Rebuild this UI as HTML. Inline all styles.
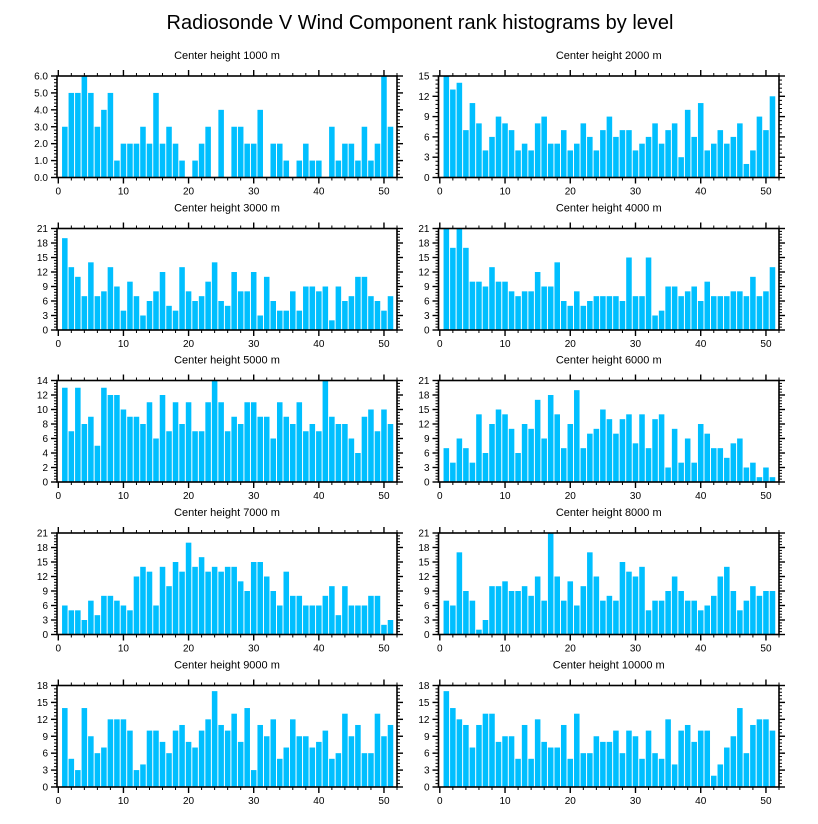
<!DOCTYPE html>
<html><head><meta charset="utf-8"><style>
html,body{margin:0;padding:0;background:#fff;}
svg{display:block;font-family:"Liberation Sans",sans-serif;}
</style></head><body>
<svg id="chart" width="818" height="824" viewBox="0 0 818 824" xmlns="http://www.w3.org/2000/svg">
<text x="420" y="29" text-anchor="middle" font-size="20" fill="#000">Radiosonde V Wind Component rank histograms by level</text>
</svg>
<script>
const levels = ["1000","2000","3000","4000","5000","6000","7000","8000","9000","10000"];
const yMaxes = [6,15,21,21,14,21,21,21,18,18];
const yMajors = [1,3,3,3,2,3,3,3,3,3];
const ranks = [1,2,3,4,5,6,7,8,9,10,11,12,13,14,15,16,17,18,19,20,21,22,23,24,25,26,27,28,29,30,31,32,33,34,35,36,37,38,39,40,41,42,43,44,45,46,47,48,49,50,51];
const xTicks = [0,10,20,30,40,50];
const counts1000 = [3,5,5,6,5,3,4,5,1,2,2,2,3,2,5,2,3,2,1,0,1,2,3,0,4,0,3,3,2,2,4,0,2,2,1,0,1,2,1,1,0,3,1,2,2,1,3,1,2,6,3];
const counts2000 = [15,13,14,7,11,8,4,6,9,8,7,4,5,4,8,9,5,5,7,4,5,8,6,4,7,9,6,7,7,4,5,6,8,5,7,8,3,10,6,11,4,5,7,5,6,8,2,4,9,7,12];
const counts3000 = [19,13,11,7,14,7,8,13,9,4,10,7,3,6,8,12,5,4,13,8,6,7,10,14,6,5,12,8,8,12,3,11,6,4,4,8,4,9,9,8,9,2,9,6,7,11,11,7,6,4,7];
const counts4000 = [21,17,21,17,10,10,9,13,10,10,8,7,8,8,12,9,9,14,6,5,8,5,6,7,7,7,7,6,15,7,7,15,3,4,9,9,7,8,9,6,10,7,7,7,8,8,7,11,7,8,13];
const counts5000 = [13,7,13,8,9,5,13,12,12,10,9,9,8,11,6,12,7,11,8,11,7,7,11,14,11,7,9,8,11,11,9,9,6,11,9,8,11,7,8,7,14,9,8,8,6,4,9,10,7,10,8];
const counts6000 = [7,4,9,7,4,14,6,12,15,14,11,6,12,11,17,9,18,14,7,12,19,7,10,11,15,13,10,13,14,8,14,7,13,14,3,11,4,9,4,12,10,7,7,5,8,9,3,4,1,3,1];
const counts7000 = [6,5,5,3,7,4,8,8,7,6,5,12,14,13,6,14,10,15,13,19,14,16,13,14,13,14,14,11,9,15,15,12,9,6,13,8,8,6,6,6,8,10,4,10,6,6,6,8,8,2,3];
const counts8000 = [7,6,17,9,7,1,3,10,10,11,9,9,10,8,12,7,21,12,7,11,6,10,17,12,7,8,7,15,13,12,14,5,7,7,9,12,9,7,7,5,6,8,12,14,9,5,7,10,8,9,9];
const counts9000 = [14,5,3,14,9,6,7,12,12,12,10,3,4,10,10,8,6,10,11,8,7,10,12,17,11,10,13,8,14,3,11,9,12,5,7,12,9,9,7,8,10,5,6,13,9,11,6,6,13,9,11];
const counts10000 = [17,14,12,11,7,11,13,13,8,9,9,5,11,5,12,8,7,7,11,5,13,6,6,9,8,8,10,6,10,9,5,10,6,5,12,4,10,11,8,10,10,2,4,7,9,14,6,11,12,12,10];
const allCounts = [counts1000,counts2000,counts3000,counts4000,counts5000,counts6000,counts7000,counts8000,counts9000,counts10000];

const NS="http://www.w3.org/2000/svg";
const svg=document.getElementById('chart');
function mk(tag,attrs,parent){const e=document.createElementNS(NS,tag);for(const k in attrs)e.setAttribute(k,attrs[k]);(parent||svg).appendChild(e);return e;}
const colX=[[57,397],[438.5,779]];
const rowTop=[76,228.5,380.5,533,685.5];
const H=101.5;
const XMIN=-0.2, XMAX=52.0;

for(let p=0;p<10;p++){
  const col=p%2,row=Math.floor(p/2);
  const x0=colX[col][0],x1=colX[col][1],y0=rowTop[row],y1=y0+H;
  const ymax=yMaxes[p],major=yMajors[p];
  const xs=v=>x0+(v-XMIN)/(XMAX-XMIN)*(x1-x0);
  const ys=v=>y1-v/ymax*H;
  const g=mk('g',{});
  
  
  const t=mk('text',{x:(x0+x1)/2,y:y0-17,'text-anchor':'middle','font-size':'11',fill:'#000'},g);
  t.textContent='Center height '+levels[p]+' m';
  
  
  const bw=(xs(1)-xs(0))*0.85;
  const data=allCounts[p];
  for(let i=0;i<ranks.length;i++){
    const v=data[i];if(!v)continue;
    const r=mk('rect',{x:xs(ranks[i])-bw/2,y:ys(v),width:bw,height:y1-ys(v),fill:'#00BFFF'},g);
    
    
  }
  const frame=mk('rect',{x:x0,y:y0,width:x1-x0,height:H,fill:'none',stroke:'#000','stroke-width':'1.6'},g);
  
  
  // x ticks
  for(let v=0;v<=52;v+=2){
    const maj=v%10===0,len=maj?6:3,X=xs(v);
    mk('line',{x1:X,x2:X,y1:y1,y2:y1+len,stroke:'#000','stroke-width':maj?1.4:1},g);
    mk('line',{x1:X,x2:X,y1:y0,y2:y0-len,stroke:'#000','stroke-width':maj?1.4:1},g);
  }
  for(const v of xTicks){
    const l=mk('text',{x:xs(v),y:y1+17,'text-anchor':'middle','font-size':'10',fill:'#000'},g);
    l.textContent=v;
    
    
  }
  // y ticks
  const minor=major/5;
  for(let k=0;k<=Math.round(ymax/minor);k++){
    const v=k*minor,maj=k%5===0,len=maj?6:3,Y=ys(v);
    mk('line',{x1:x0,x2:x0-len,y1:Y,y2:Y,stroke:'#000','stroke-width':maj?1.4:1},g);
    mk('line',{x1:x1,x2:x1+len,y1:Y,y2:Y,stroke:'#000','stroke-width':maj?1.4:1},g);
    if(maj){
      const l=mk('text',{x:x0-9,y:Y+3.5,'text-anchor':'end','font-size':'10',fill:'#000'},g);
      l.textContent=(p===0)?v.toFixed(1):Math.round(v);
      
      
    }
  }
}
</script>
</body></html>
